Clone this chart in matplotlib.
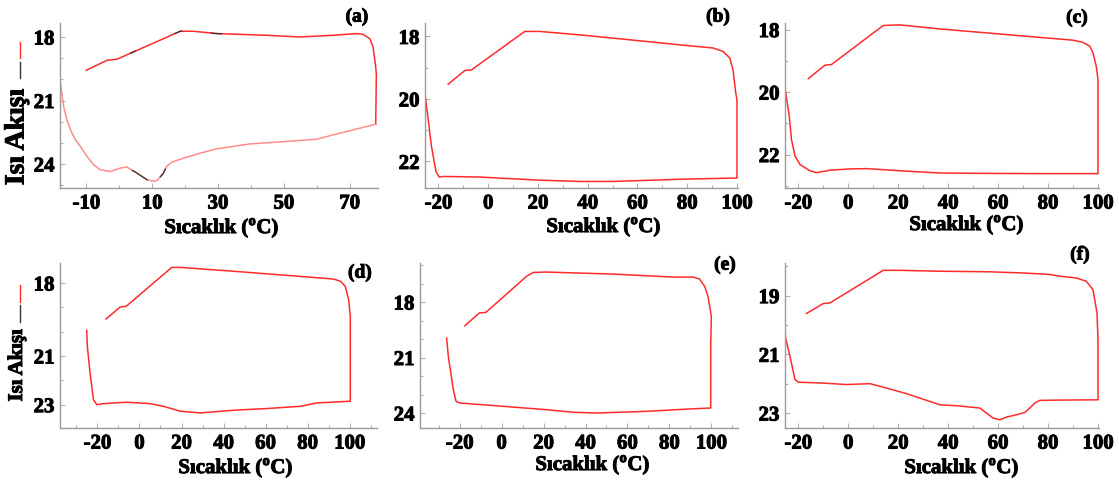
import numpy as np
import matplotlib as mpl
mpl.use("Agg")
import matplotlib.pyplot as plt
import matplotlib.patheffects as pe
from matplotlib.lines import Line2D

# panel (a): upper branch (cooling) and lower branch (heating)
a_up_T = [-10, -3.7, -0.7, 18.5, 22.5, 29.6, 44.7, 54.8, 65, 72, 74, 76.1, 77.1, 77.9, 78.1, 77.9]
a_up_H = [19.57, 19.10, 19.05, 17.73, 17.73, 17.84, 17.92, 18.0, 17.92, 17.84, 17.87, 18.08, 18.47, 19.41, 19.8, 22.12]
a_lo_T = [77.9, 73.0, 65.0, 59.9, 49.8, 39.7, 29.6, 24.5, 19.5, 16.0, 14.4, 13.4, 11.9, 10.9, 8.4,
          5.4, 2.3, 0.3, -2.7, -5.8, -7.8, -9.8, -11.8, -13.3, -14.8, -15.9, -16.9, -17.9]
a_lo_H = [22.12, 22.31, 22.62, 22.83, 22.94, 23.05, 23.28, 23.49, 23.72, 23.91, 24.11, 24.43, 24.71, 24.82, 24.74,
          24.43, 24.14, 24.19, 24.35, 24.27, 24.03, 23.64, 23.17, 22.86, 22.39, 21.92, 21.29, 20.12]
# temperature windows where the black trace shows through in (a)
a_black_up = [(3.5, 5.0), (17.0, 19.0), (28.0, 31.0)]
a_black_lo = [(4.0, 8.5), (12.5, 14.0)]

b_T = [-16.1, -9.4, -6.7, 14.7, 20.7, 36.8, 63.6, 77, 90.4, 94.4, 97.1, 98.4, 99.5, 100, 100,
       77, 50.2, 36.8, 20.7, -3.3, -18.1, -19.7, -21, -22.8, -24.1, -25.2]
b_H = [19.53, 19.09, 19.07, 17.84, 17.84, 17.95, 18.16, 18.27, 18.37, 18.48, 18.69, 19.07, 19.81, 20.03, 22.53,
       22.57, 22.64, 22.64, 22.6, 22.5, 22.48, 22.5, 22.32, 21.52, 20.67, 19.97]

c_T = [-16, -9.3, -6.7, 14, 20.7, 36.7, 63.3, 90, 94, 96.7, 98, 99.3, 100, 100,
       76.7, 50, 36.7, 23.3, 7.3, 0.7, -7.3, -12.7, -15.3, -19.3, -21.3, -22.7, -23.6, -25.1]
c_H = [19.57, 19.14, 19.12, 17.87, 17.85, 17.98, 18.16, 18.34, 18.41, 18.53, 18.75, 19.17, 19.6, 22.61,
       22.61, 22.6, 22.59, 22.53, 22.45, 22.46, 22.5, 22.58, 22.52, 22.32, 22.05, 21.52, 20.77, 19.97]

d_T = [-15.9, -9.2, -6.3, 15.4, 19.4, 44.8, 76.5, 92.4, 95.6, 97.9, 99.5, 100.3, 100.3,
       84.4, 76.5, 60.6, 44.8, 28.9, 19.4, 11.4, 5.1, -6, -17.1, -20.3, -21.9, -23.5, -24.8, -25.1]
d_H = [19.48, 18.99, 18.96, 17.36, 17.36, 17.52, 17.73, 17.84, 17.93, 18.14, 18.68, 19.37, 22.86,
       22.93, 23.07, 23.16, 23.23, 23.34, 23.27, 23.07, 22.96, 22.9, 22.96, 23.0, 22.79, 21.7, 20.6, 19.95]

e_T = [-17.5, -10.6, -7.5, 11.9, 15.1, 21.4, 53.2, 81.7, 91.3, 94.4, 96.8, 98.4, 100, 99.7, 99.7,
       91.3, 69, 45.2, 34.1, 21.4, 5.6, -19.8, -21.7, -23, -25.4, -26.2]
e_H = [19.28, 18.59, 18.56, 16.61, 16.4, 16.38, 16.49, 16.65, 16.65, 16.76, 17.15, 17.69, 18.77, 20.22, 23.73,
       23.77, 23.91, 24.0, 23.96, 23.82, 23.68, 23.46, 23.37, 22.74, 20.94, 19.95]

f_T = [-16.7, -10, -7.3, 14, 20.7, 36.7, 56.7, 70, 80.7, 84.7, 91.3, 95.3, 98, 99.6, 100, 100,
       83.3, 76.7, 74.7, 72.7, 70.7, 67.3, 63.3, 60.7, 58, 55.3, 52.7, 43.3, 36.7, 23.3, 15.3, 8.7,
       -0.7, -10, -20, -21.3, -23.3, -25.1, -25.3]
f_H = [19.61, 19.27, 19.25, 18.14, 18.14, 18.17, 18.19, 18.23, 18.28, 18.34, 18.4, 18.51, 18.8, 19.59, 20.5, 22.55,
       22.56, 22.57, 22.66, 22.83, 22.98, 23.06, 23.14, 23.23, 23.17, 23.0, 22.83, 22.75, 22.72, 22.34, 22.15, 22.0,
       22.03, 21.98, 21.95, 21.86, 21.07, 20.44, 19.99]

W, H = 1119, 483
RED = '#ff2b2b'
SERIF = 'Liberation Serif'
THICK = [pe.withStroke(linewidth=0.7, foreground='black')]

plt.rcParams['font.family'] = SERIF
plt.rcParams['font.weight'] = 'bold'
plt.rcParams['mathtext.fontset'] = 'custom'
plt.rcParams['mathtext.rm'] = 'Liberation Serif:bold'
plt.rcParams['mathtext.bf'] = 'Liberation Serif:bold'

fig = plt.figure(figsize=(W / 100, H / 100), dpi=100)


def fx(x):
    return x / W


def fy(y):
    return 1 - y / H


def make_ax(box, xlim, ylim, xmaj, xmin, ymaj, ymin):
    x0, y0, x1, y1 = box
    ax = fig.add_axes([fx(x0), fy(y1), (x1 - x0) / W, (y1 - y0) / H])
    ax.set_xlim(*xlim)
    ax.set_ylim(*ylim)
    ax.set_xticks(xmaj, labels=[str(v) for v in xmaj])
    ax.set_xticks(xmin, minor=True)
    ax.set_yticks(ymaj, labels=[str(v) for v in ymaj])
    ax.set_yticks(ymin, minor=True)
    for s in ['top', 'right']:
        ax.spines[s].set_visible(False)
    for s in ['left', 'bottom']:
        ax.spines[s].set_color('#9a9a9a')
        ax.spines[s].set_linewidth(1.0)
    ax.tick_params(which='both', direction='in', color='#b0b0b0', width=0.8)
    ax.tick_params(which='major', length=3.5, pad=4, labelsize=15)
    ax.tick_params(which='minor', length=2.5)
    for lab in ax.get_xticklabels() + ax.get_yticklabels():
        lab.set_fontweight('bold')
        lab.set_path_effects(THICK)
    return ax


def window(T, Hv, lo, hi):
    t = np.linspace(lo, hi, 20)
    order = np.argsort(T)
    return t, np.interp(t, np.array(T)[order], np.array(Hv)[order])


panels = [
    # box, xlim, ylim, xmajor, xminor, ymajor, yminor
    ([60, 23, 378, 188], (-18, 78.6), (25.13, 17.34), [-10, 10, 30, 50, 70], np.arange(-10, 80, 10),
     [18, 21, 24], np.arange(18, 26, 1)),
    ([425, 23, 738, 188], (-25.4, 100.4), (22.85, 17.57), list(range(-20, 101, 20)), np.arange(-20, 101, 10),
     [18, 20, 22], np.arange(18, 23, 1)),
    ([785, 23, 1099, 188], (-25.3, 100.4), (23.07, 17.79), list(range(-20, 101, 20)), np.arange(-20, 101, 10),
     [18, 20, 22], np.arange(18, 24, 1)),
    ([60, 263, 377, 428], (-37.8, 113), (23.96, 17.18), list(range(-20, 101, 20)), np.arange(-30, 111, 10),
     [18, 21, 23], np.arange(18, 24, 1)),
    ([420, 263, 738, 428], (-38.9, 112.7), (24.81, 15.89), list(range(-20, 101, 20)), np.arange(-30, 111, 10),
     [18, 21, 24], np.arange(16, 25, 1)),
    ([785, 263, 1099, 428], (-25.3, 100.4), (23.51, 17.89), list(range(-20, 101, 20)), np.arange(-20, 101, 10),
     [19, 21, 23], np.arange(18, 24, 1)),
]
axes = [make_ax(*p) for p in panels]

# (a)
ax = axes[0]
ax.plot(a_up_T, a_up_H, color=RED, lw=1.1)
ax.plot(a_lo_T, a_lo_H, color='#ff8c8c', lw=1.1)
for lo, hi in a_black_up:
    t, h = window(a_up_T[:-2], a_up_H[:-2], lo, hi)
    ax.plot(t, h, color='#333333', lw=0.9)
for lo, hi in a_black_lo:
    t, h = window(a_lo_T, a_lo_H, lo, hi)
    ax.plot(t, h, color='#333333', lw=0.9)

for ax, T, Hv in zip(axes[1:], [b_T, c_T, d_T, e_T, f_T], [b_H, c_H, d_H, e_H, f_H]):
    ax.plot(T, Hv, color=RED, lw=1.1)

# panel letters
for txt, (x, y) in zip(['(a)', '(b)', '(c)', '(d)', '(e)', '(f)'],
                       [(357, 17), (718, 17), (1077, 18), (360, 273), (725, 265), (1080, 255)]):
    fig.text(fx(x), fy(y), txt, fontsize=14, fontweight='bold', ha='center', va='center',
             path_effects=THICK)

# x labels
for (x, y) in [(222, 228), (604, 227), (967, 225), (236, 468), (593, 465), (962, 468)]:
    fig.text(fx(x), fy(y), 'Sıcaklık ($^{\\rm o}$C)', fontsize=15, fontweight='bold', ha='center', va='center',
             path_effects=THICK)

# y labels with legend strokes
for (yc, fs, r0, r1, k0, k1) in [(137, 20, 42, 58, 62, 78), (365, 15, 285, 302, 305, 322)]:
    fig.text(fx(17), fy(yc), 'Isı Akışı', fontsize=fs, fontweight='bold', rotation=90,
             ha='center', va='center', path_effects=THICK)
    fig.add_artist(Line2D([fx(19.5), fx(19.5)], [fy(r0), fy(r1)], color=RED, lw=1.0))
    fig.add_artist(Line2D([fx(19.5), fx(19.5)], [fy(k0), fy(k1)], color='#333333', lw=1.0))

fig.savefig('out.png', dpi=100)
